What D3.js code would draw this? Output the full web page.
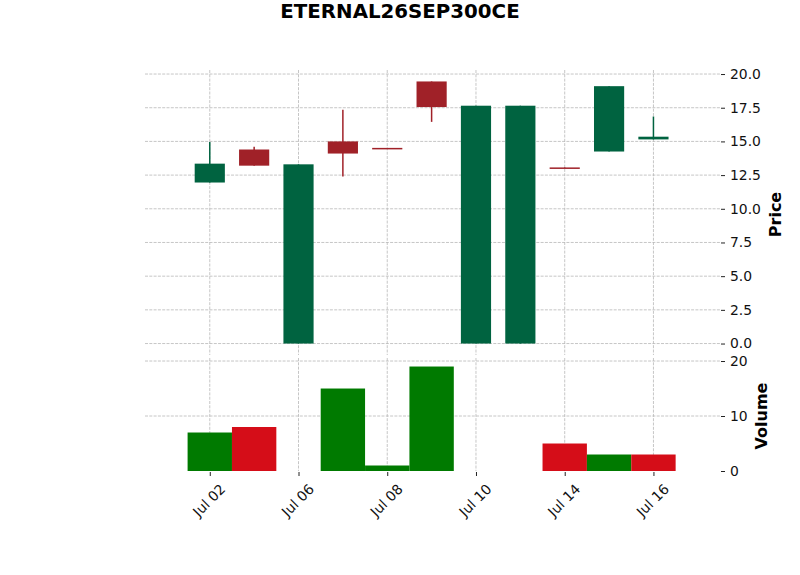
<!DOCTYPE html>
<html>
<head>
<meta charset="utf-8">
<script src="https://cdn.jsdelivr.net/npm/d3@7"></script>
<style>
  body { margin: 0; background: #fff; }
  text { font-family: "DejaVu Sans", sans-serif; }
</style>
</head>
<body>
<svg id="chart" width="800" height="575"></svg>
<script>
// trading days (non-trading days skipped, candles sit on index positions)
const dates = ['Jul 02', 'Jul 03', 'Jul 06', 'Jul 07', 'Jul 08', 'Jul 09', 'Jul 10', 'Jul 13', 'Jul 14', 'Jul 15', 'Jul 16'];
const opens = [11.95, 14.4, 0.0, 15.0, 14.52, 19.45, 0.0, 0.0, 13.07, 14.25, 15.15];
const highs = [14.95, 14.6, 13.3, 17.35, 14.52, 19.45, 17.65, 17.65, 13.07, 19.1, 16.85];
const lows = [11.95, 13.2, 0.0, 12.4, 14.48, 16.45, 0.0, 0.0, 13.03, 14.25, 15.15];
const closes = [13.35, 13.2, 13.3, 14.1, 14.48, 17.55, 17.65, 17.65, 13.03, 19.1, 15.35];
const volumes = [7, 8, 0, 15, 1, 19, 0, 0, 5, 3, 3];

const priceTicks = [0, 2.5, 5, 7.5, 10, 12.5, 15, 17.5, 20];
const volTicks = [0, 10, 20];
const xTickIdx = [0, 2, 4, 6, 8, 10];

const upColor = '#006340', downColor = '#a02128';
const volUp = '#007a00', volDown = '#d50d18';
const gridColor = '#b8b8b8';

const svg = d3.select('#chart');

const x = d3.scaleLinear().domain([-1.46, 11.5]).range([145, 720]);
const yPrice = d3.scaleLinear().domain([-0.85, 20.3]).range([355, 70]);
const yVol = d3.scaleLinear().domain([0, 20.55]).range([471, 358]);

const data = dates.map((d, i) => ({
  i: i, date: d, open: opens[i], high: highs[i], low: lows[i], close: closes[i], volume: volumes[i]
}));

// grid
const grid = svg.append('g')
  .attr('stroke', gridColor)
  .attr('stroke-width', 0.8)
  .attr('stroke-dasharray', '3,1.3');

grid.selectAll('line.hp')
  .data(priceTicks)
  .enter().append('line')
  .attr('x1', x.range()[0]).attr('x2', x.range()[1])
  .attr('y1', d => yPrice(d)).attr('y2', d => yPrice(d));

grid.selectAll('line.hv')
  .data(volTicks.filter(d => d > 0))
  .enter().append('line')
  .attr('x1', x.range()[0]).attr('x2', x.range()[1])
  .attr('y1', d => yVol(d)).attr('y2', d => yVol(d));

grid.selectAll('line.vp')
  .data(xTickIdx)
  .enter().append('line')
  .attr('x1', d => x(d)).attr('x2', d => x(d))
  .attr('y1', yPrice.range()[1]).attr('y2', yPrice.range()[0]);

grid.selectAll('line.vv')
  .data(xTickIdx)
  .enter().append('line')
  .attr('x1', d => x(d)).attr('x2', d => x(d))
  .attr('y1', yVol.range()[1]).attr('y2', yVol.range()[0]);

// candles
const bodyW = 0.68;
const candles = svg.append('g');

candles.selectAll('line.wick')
  .data(data)
  .enter().append('line')
  .attr('x1', d => x(d.i)).attr('x2', d => x(d.i))
  .attr('y1', d => yPrice(d.high)).attr('y2', d => yPrice(d.low))
  .attr('stroke', d => d.close > d.open ? upColor : downColor)
  .attr('stroke-width', 1.5);

candles.selectAll('rect.body')
  .data(data)
  .enter().append('rect')
  .attr('x', d => x(d.i - bodyW / 2))
  .attr('width', d => x(d.i + bodyW / 2) - x(d.i - bodyW / 2))
  .attr('y', d => yPrice(Math.max(d.open, d.close)))
  .attr('height', d => Math.max(1.5, yPrice(Math.min(d.open, d.close)) - yPrice(Math.max(d.open, d.close))))
  .attr('fill', d => d.close > d.open ? upColor : downColor);

// volume, coloured by close vs previous close
const volW = 1.0;
svg.append('g').selectAll('rect')
  .data(data.filter(d => d.volume > 0))
  .enter().append('rect')
  .attr('x', d => x(d.i - volW / 2))
  .attr('width', d => x(d.i + volW / 2) - x(d.i - volW / 2))
  .attr('y', d => yVol(d.volume))
  .attr('height', d => yVol(0) - yVol(d.volume))
  .attr('fill', d => (d.i === 0 || d.close >= closes[d.i - 1]) ? volUp : volDown);

// right axes
const priceAxis = d3.axisRight(yPrice)
  .tickValues(priceTicks)
  .tickFormat(d3.format('.1f'))
  .tickSize(4)
  .tickPadding(5);

const volAxis = d3.axisRight(yVol)
  .tickValues(volTicks)
  .tickFormat(d3.format('d'))
  .tickSize(4)
  .tickPadding(5);

const xAxis = d3.axisBottom(x)
  .tickValues(xTickIdx)
  .tickFormat(i => dates[i])
  .tickSize(4)
  .tickPadding(3);

function styleAxis(g) {
  g.select('.domain').remove();
  g.selectAll('.tick line').attr('stroke', '#222').attr('stroke-width', 1);
  g.selectAll('.tick text').attr('fill', '#111').style('font-size', '13.9px')
    .style('font-family', '"DejaVu Sans", sans-serif');
}

svg.append('g')
  .attr('transform', 'translate(721,0)')
  .call(priceAxis)
  .call(styleAxis);

svg.append('g')
  .attr('transform', 'translate(721,0)')
  .call(volAxis)
  .call(styleAxis);

const gx = svg.append('g')
  .attr('transform', 'translate(0,472)')
  .call(xAxis)
  .call(styleAxis);

gx.selectAll('.tick text')
  .attr('text-anchor', 'end')
  .attr('dy', null)
  .attr('y', null)
  .attr('transform', 'translate(16,18) rotate(-45)');

// labels
svg.append('text')
  .attr('transform', 'translate(781,214.5) rotate(-90)')
  .attr('text-anchor', 'middle')
  .style('font-size', '16px')
  .style('font-weight', 'bold')
  .text('Price');

svg.append('text')
  .attr('transform', 'translate(767,416) rotate(-90)')
  .attr('text-anchor', 'middle')
  .style('font-size', '16px')
  .style('font-weight', 'bold')
  .text('Volume');

svg.append('text')
  .attr('x', 400)
  .attr('y', 17.5)
  .attr('text-anchor', 'middle')
  .style('font-size', '19.8px')
  .style('font-weight', 'bold')
  .text('ETERNAL26SEP300CE');
</script>
</body>
</html>
